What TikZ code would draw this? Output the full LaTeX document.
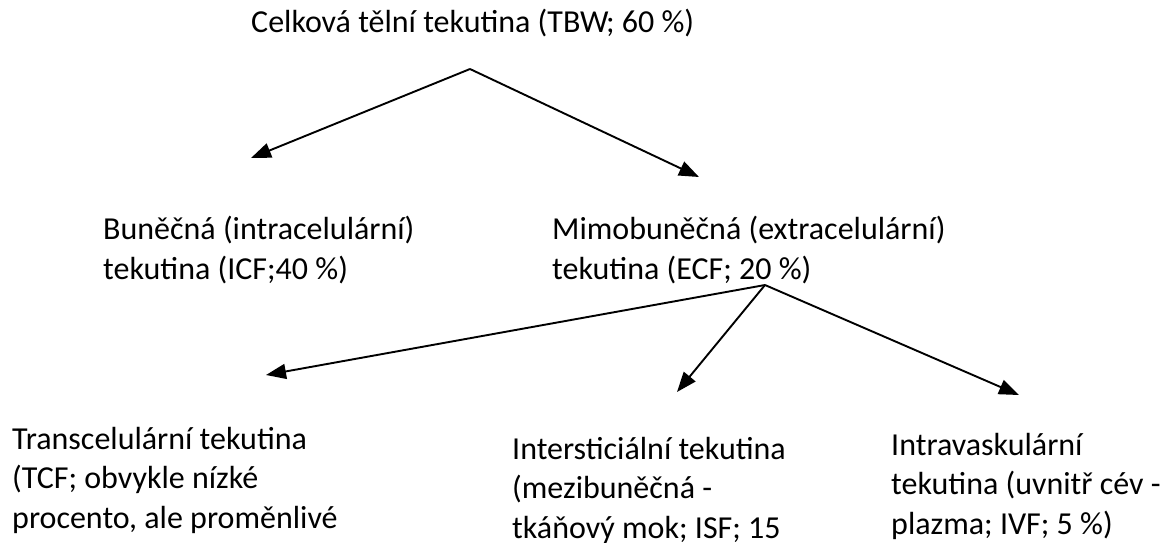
\documentclass[tikz,border=0pt]{standalone}
\usepackage{fontspec}
\setmainfont{Carlito}
\usetikzlibrary{arrows.meta}
\tikzset{
  fluid/.style={anchor=base west, align=left, inner sep=0pt, font=\fontsize{32}{39.5}\selectfont},
  split/.style={line width=1.9pt, -{Triangle[length=20pt, width=15pt]}}
}
\begin{document}
\begin{tikzpicture}[x=1pt, y=-1pt]
  \useasboundingbox (0,0) rectangle (1166,542);
  % base = baseline of the last line
  \node [fluid] (tbw) at (251,32)  {Celková tělní tekutina (TBW; 60~\%)};
  \node [fluid] (icf) at (103,279) {Buněčná (intracelulární)\\ tekutina (ICF;40~\%)};
  \node [fluid] (ecf) at (552,279) {Mimobuněčná (extracelulární)\\ tekutina (ECF; 20~\%)};
  \node [fluid] (tcf) at (12,528)  {Transcelulární tekutina\\ (TCF; obvykle nízké\\ procento, ale proměnlivé};
  \node [fluid] (isf) at (512,538) {Intersticiální tekutina\\ (mezibuněčná -\\ tkáňový mok; ISF; 15};
  \node [fluid] (ivf) at (891,534) {Intravaskulární\\ tekutina (uvnitř cév -\\ plazma; IVF; 5~\%)};
  % branching points and arrow tips
  \coordinate (tbw-fork) at (470,69);
  \coordinate (icf-in)   at (251,158);
  \coordinate (ecf-in)   at (699,177);
  \coordinate (ecf-fork) at (765,285);
  \coordinate (tcf-in)   at (266,375);
  \coordinate (isf-in)   at (677,392);
  \coordinate (ivf-in)   at (1019,395);
  \draw [split] (tbw-fork) -- (icf-in);
  \draw [split] (tbw-fork) -- (ecf-in);
  \draw [split] (ecf-fork) -- (tcf-in);
  \draw [split] (ecf-fork) -- (isf-in);
  \draw [split] (ecf-fork) -- (ivf-in);
\end{tikzpicture}
\end{document}
